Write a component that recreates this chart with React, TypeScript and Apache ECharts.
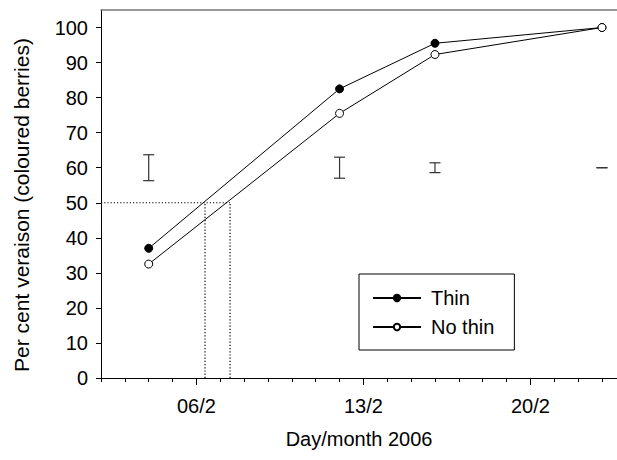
import React, { useEffect, useRef } from "react";
import * as echarts from "echarts";

// Dates are days of February 2006
const sampleDays = [4, 12, 16, 23];
const thinValues = [37, 82.5, 95.5, 100];
const noThinValues = [32.5, 75.5, 92.3, 100];
// error bars (centred at barCentre, half-length in % units)
const barCentre = 60;
const barHalf = [3.7, 3.0, 1.4, 0];
// dates at which 50 % veraison was reached
const halfLevel = 50;
const halfDays = [6.36, 7.41];
// axis ticks
const dayTicks = [2, 3, 4, 5, 6, 7, 8, 9, 10, 11, 12, 13, 14, 15, 16, 17, 18, 19, 20, 21, 22, 23];
const weekTicks = [6, 13, 20];
const yTicks = [0, 10, 20, 30, 40, 50, 60, 70, 80, 90, 100];
const xMin = 2;
const xMax = 23.63;
const yMax = 105;

const FONT = "'Liberation Sans', Arial, sans-serif";
const FS = 20;

export default function App() {
  const ref = useRef<HTMLDivElement>(null);
  useEffect(() => {
    if (!ref.current) return;
    const chart = echarts.init(ref.current, null, { renderer: "svg" });
    const thinData = sampleDays.map((d, i) => [d, thinValues[i]]);
    const noThinData = sampleDays.map((d, i) => [d, noThinValues[i]]);
    const barData = sampleDays.map((d, i) => [d, barCentre, barHalf[i]]);
    const dotted = { color: "#000", width: 1.2, type: [1.2, 2] as any };
    const refSeries: any[] = [
      {
        type: "line",
        data: [[xMin, halfLevel], [halfDays[halfDays.length - 1], halfLevel]],
        symbol: "none",
        lineStyle: dotted,
        silent: true,
        z: 1,
      },
      ...halfDays.map((d) => ({
        type: "line",
        data: [[d, 0], [d, halfLevel]],
        symbol: "none",
        lineStyle: dotted,
        silent: true,
        z: 1,
      })),
    ];
    chart.setOption({
      animation: false,
      backgroundColor: "#fff",
      textStyle: { fontFamily: FONT, color: "#000" },
      grid: { left: 101, right: 0, top: 10, bottom: 82 },
      legend: {
        data: ["Thin", "No thin"],
        orient: "vertical",
        left: 359,
        top: 274,
        itemWidth: 48,
        itemHeight: 8,
        itemGap: 9,
        padding: [14, 20, 13, 13],
        borderColor: "#000",
        borderWidth: 1,
        backgroundColor: "#fff",
        textStyle: { fontFamily: FONT, fontSize: FS, color: "#000", lineHeight: 20, padding: [0, 0, 0, 5] },
      },
      xAxis: [
        {
          type: "value",
          min: xMin,
          max: xMax,
          position: "bottom",
          name: "Day/month 2006",
          nameLocation: "middle",
          nameGap: 51,
          nameTextStyle: { fontFamily: FONT, fontSize: FS, color: "#000" },
          axisLine: { show: true, onZero: false, lineStyle: { color: "#000", width: 1 } },
          axisTick: { show: true, customValues: dayTicks, length: 4, lineStyle: { color: "#000" } },
          axisLabel: {
            customValues: weekTicks,
            margin: 18,
            fontFamily: FONT,
            fontSize: FS,
            color: "#000",
            formatter: (v: number) => `${String(Math.round(v)).padStart(2, "0")}/2`,
          },
          splitLine: { show: false },
        },
        {
          type: "value",
          min: xMin,
          max: xMax,
          position: "bottom",
          axisLine: { show: false },
          axisTick: { show: true, customValues: weekTicks, length: 7, lineStyle: { color: "#000" } },
          axisLabel: { show: false },
          splitLine: { show: false },
        },
        {
          type: "value",
          min: xMin,
          max: xMax,
          position: "top",
          axisLine: { show: true, onZero: false, lineStyle: { color: "#777", width: 1.5 } },
          axisTick: { show: false },
          axisLabel: { show: false },
          splitLine: { show: false },
        },
      ],
      yAxis: {
        type: "value",
        min: 0,
        max: yMax,
        name: "Per cent veraison (coloured berries)",
        nameLocation: "middle",
        nameGap: 69,
        nameTextStyle: { fontFamily: FONT, fontSize: 21, color: "#000", padding: [0, 22, 0, 0] },
        axisLine: { show: true, onZero: false, lineStyle: { color: "#000", width: 1 } },
        axisTick: { show: true, customValues: yTicks, length: 5, lineStyle: { color: "#000" } },
        axisLabel: { customValues: yTicks, margin: 13, fontFamily: FONT, fontSize: FS, color: "#000" },
        splitLine: { show: false },
      },
      series: [
        ...refSeries,
        {
          type: "custom",
          name: "LSD",
          data: barData,
          silent: true,
          z: 2,
          renderItem: (params: any, api: any) => {
            const d = api.value(0);
            const c = api.value(1);
            const h = api.value(2);
            const top = api.coord([d, c + h]);
            const bot = api.coord([d, c - h]);
            const cap = 5.5;
            const style = { stroke: "#333", lineWidth: 1.2 };
            return {
              type: "group",
              children: [
                { type: "line", shape: { x1: top[0], y1: top[1], x2: bot[0], y2: bot[1] }, style },
                { type: "line", shape: { x1: top[0] - cap, y1: top[1], x2: top[0] + cap, y2: top[1] }, style },
                { type: "line", shape: { x1: bot[0] - cap, y1: bot[1], x2: bot[0] + cap, y2: bot[1] }, style },
              ],
            };
          },
        },
        {
          type: "line",
          name: "Thin",
          data: thinData,
          symbol: "circle",
          symbolSize: 8,
          lineStyle: { color: "#000", width: 1 },
          itemStyle: { color: "#000", borderColor: "#000", borderWidth: 1 },
          z: 3,
        },
        {
          type: "line",
          name: "No thin",
          data: noThinData,
          symbol: "circle",
          symbolSize: 8,
          lineStyle: { color: "#000", width: 1 },
          itemStyle: { color: "#fff", borderColor: "#000", borderWidth: 1 },
          z: 3,
        },
      ],
    });
    return () => chart.dispose();
  }, []);
  return (
    <div
      ref={ref}
      style={{ position: "fixed", left: 0, top: 0, width: 617, height: 460, background: "#fff" }}
    />
  );
}
